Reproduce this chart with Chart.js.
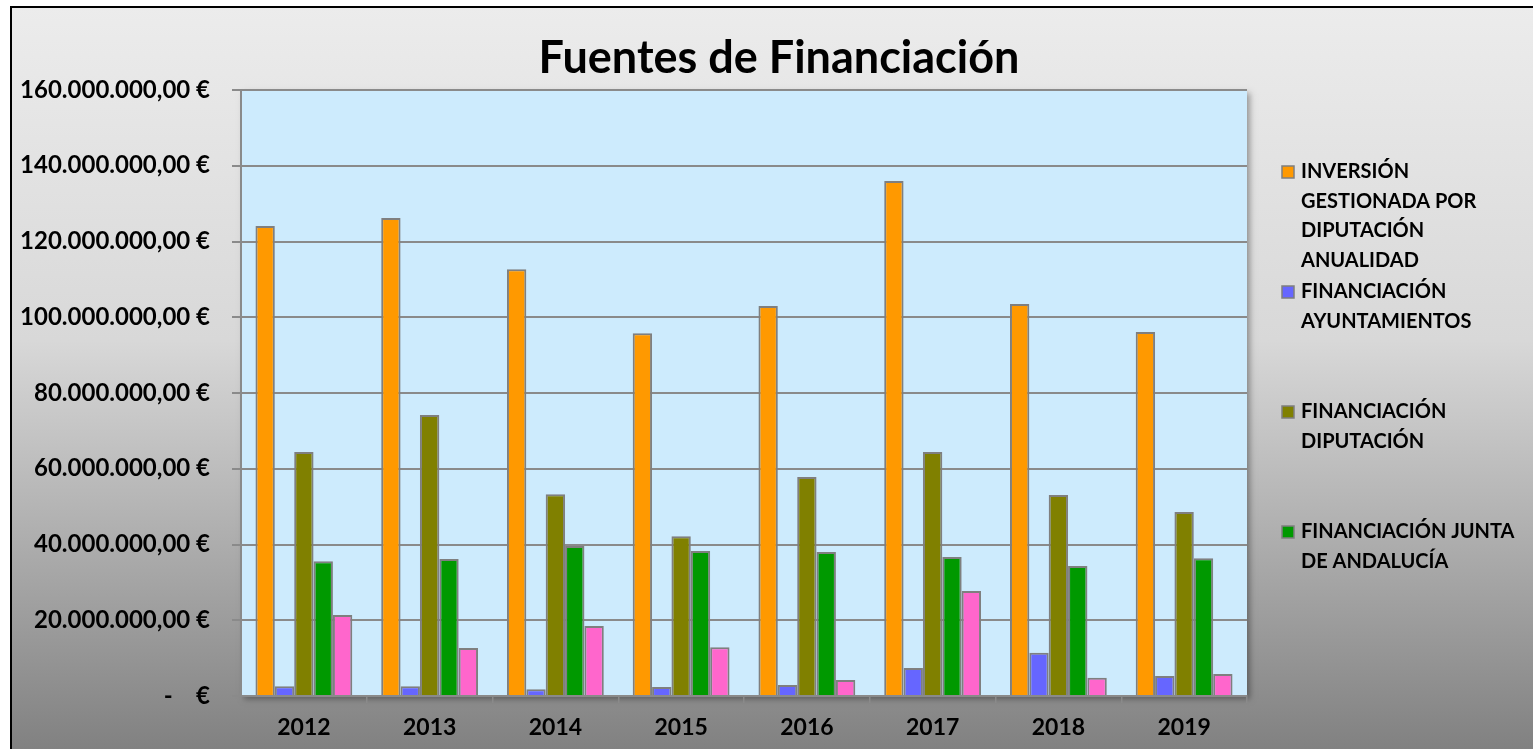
<!DOCTYPE html>
<html>
<head>
<meta charset="utf-8">
<script src="https://cdn.jsdelivr.net/npm/chart.js@4.4.1/dist/chart.umd.min.js"></script>
<style>
  html, body { margin: 0; padding: 0; background: #fff; }
  #wrap { width: 1533px; height: 749px; position: relative; }
</style>
</head>
<body>
<div id="wrap"><canvas id="chart"></canvas></div>
<script>
const years = ['2012', '2013', '2014', '2015', '2016', '2017', '2018', '2019'];

const inversion     = [124.1e6, 126.2e6, 112.7e6, 95.8e6, 103.0e6, 136.0e6, 103.5e6, 96.1e6];
const ayuntamientos = [2.6e6, 2.6e6, 1.8e6, 2.4e6, 2.9e6, 7.4e6, 11.4e6, 5.3e6];
const diputacion    = [64.4e6, 74.2e6, 53.3e6, 42.2e6, 57.8e6, 64.4e6, 53.1e6, 48.6e6];
const junta         = [35.6e6, 36.2e6, 39.6e6, 38.3e6, 38.0e6, 36.7e6, 34.3e6, 36.4e6];
const otras         = [21.4e6, 12.7e6, 18.5e6, 12.9e6, 4.2e6, 27.7e6, 4.8e6, 5.8e6];

// legend text as it wraps in the original (the fifth series is not listed there)
const legendLines = [
    ['INVERSIÓN', 'GESTIONADA POR', 'DIPUTACIÓN', 'ANUALIDAD'],
    ['FINANCIACIÓN', 'AYUNTAMIENTOS'],
    ['FINANCIACIÓN', 'DIPUTACIÓN'],
    ['FINANCIACIÓN JUNTA', 'DE ANDALUCÍA']
];

const colors = ['#FF9900', '#6666FF', '#808000', '#009900', '#FF66CC'];
const FONT = 'Lato, "Open Sans", sans-serif';

function euro(v) {
    if (v === 0) return '-    €';
    const s = Math.round(v).toString().replace(/\B(?=(\d{3})+(?!\d))/g, '.');
    return s + ',00 €';
}

const series = [inversion, ayuntamientos, diputacion, junta, otras];
const names = legendLines.map(l => l.join(' ')).concat(['OTRAS FUENTES']);

const datasets = series.map((data, i) => ({
    label: names[i],
    data: data,
    backgroundColor: colors[i],
    borderColor: '#7f7f7f',
    borderWidth: 2,
    categoryPercentage: 0.77,
    barPercentage: 1.0
}));

const backdrop = {
    id: 'backdrop',
    beforeDraw(chart) {
        const { ctx, width, height, chartArea: a } = chart;
        ctx.save();
        ctx.fillStyle = '#ffffff';
        ctx.fillRect(0, 0, width, height);
        const g = ctx.createLinearGradient(0, 6, 0, height);
        g.addColorStop(0, '#ececec');
        g.addColorStop(0.45, '#d8d8d8');
        g.addColorStop(1, '#818181');
        ctx.fillStyle = g;
        ctx.fillRect(10, 6, width - 10, height - 6);
        ctx.strokeStyle = '#000';
        ctx.lineWidth = 2;
        ctx.strokeRect(11, 7, width - 10, height - 6);
        // plot area with a soft shadow
        ctx.shadowColor = 'rgba(0,0,0,0.35)';
        ctx.shadowBlur = 6;
        ctx.shadowOffsetX = 3;
        ctx.shadowOffsetY = 3;
        ctx.fillStyle = '#CDEBFD';
        ctx.fillRect(a.left, a.top, a.right - a.left, a.bottom - a.top);
        ctx.restore();
    },
    afterDraw(chart) {
        const { ctx } = chart;
        ctx.save();
        ctx.font = 'bold 45px ' + FONT;
        ctx.fillStyle = '#000';
        ctx.textAlign = 'center';
        ctx.textBaseline = 'middle';
        ctx.fillText('Fuentes de Financiación', 779, 58);

        ctx.font = 'bold 20px ' + FONT;
        ctx.textAlign = 'left';
        legendLines.forEach((lines, i) => {
            const y0 = 172 + i * 120;
            ctx.fillStyle = colors[i];
            ctx.fillRect(1282, y0 - 6, 12, 12);
            ctx.strokeStyle = '#7f7f7f';
            ctx.lineWidth = 1.5;
            ctx.strokeRect(1282, y0 - 6, 12, 12);
            ctx.fillStyle = '#000';
            lines.forEach((t, j) => ctx.fillText(t, 1301, y0 + j * 29.5));
        });
        ctx.restore();
    }
};

new Chart(document.getElementById('chart'), {
    type: 'bar',
    data: { labels: years, datasets },
    plugins: [backdrop],
    options: {
        responsive: true,
        maintainAspectRatio: false,
        animation: false,
        layout: { padding: { left: 0, right: 286, top: 90, bottom: 0 } },
        plugins: {
            legend: { display: false },
            tooltip: { enabled: false }
        },
        scales: {
            x: {
                afterFit(scale) { scale.height = 53; },
                grid: {
                    offset: true,
                    drawOnChartArea: false,
                    color: '#8a8a8a',
                    lineWidth: 1.5,
                    tickLength: 7
                },
                border: { color: '#8a8a8a', width: 2 },
                ticks: {
                    color: '#000',
                    padding: 11,
                    font: { family: FONT, size: 23, weight: 'bold' }
                }
            },
            y: {
                min: 0,
                max: 160000000,
                afterFit(scale) { scale.width = 241; },
                grid: {
                    color: '#8a8a8a',
                    lineWidth: 2,
                    tickLength: 9
                },
                border: { color: '#8a8a8a', width: 2 },
                ticks: {
                    stepSize: 20000000,
                    color: '#000',
                    padding: 22,
                    font: { family: FONT, size: 24, weight: 'bold' },
                    callback: v => euro(v)
                }
            }
        }
    }
});
</script>
</body>
</html>
